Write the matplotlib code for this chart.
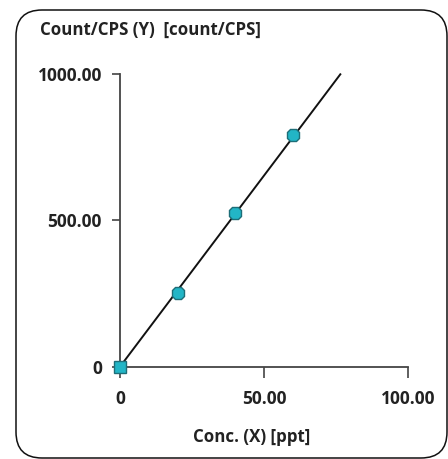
import matplotlib
matplotlib.use("Agg")
import matplotlib.pyplot as plt
from matplotlib.patches import FancyBboxPatch

# data
conc = [0, 20, 40, 60]
counts = [0, 252, 524, 792]
fit_x = [0, 76.5]
fit_y = [0, 1000]
x_ticks = [0, 50, 100]
x_tick_labels = ["0", "50.00", "100.00"]
y_ticks = [0, 500, 1000]
y_tick_labels = ["0", "500.00", "1000.00"]

W, H, DPI = 448, 459, 100
plt.rcParams['font.family'] = ['Open Sans', 'DejaVu Sans']
fig = plt.figure(figsize=(W / DPI, H / DPI), dpi=DPI)

# rounded frame
frame = FancyBboxPatch((16 / DPI, (H - 458) / DPI), (447 - 16) / DPI, (458 - 10) / DPI,
                       boxstyle="round,pad=0,rounding_size=0.26",
                       transform=fig.dpi_scale_trans, fill=False,
                       edgecolor="#111111", linewidth=1.1)
fig.patches.append(frame)

left, right = 120 / W, 408 / W
bottom, top = 1 - 366.7 / H, 1 - 74.3 / H
ax = fig.add_axes([left, bottom, right - left, top - bottom])
ax.set_xlim(0, 100)
ax.set_ylim(0, 1000)
ax.patch.set_visible(False)

for s in ["top", "right"]:
    ax.spines[s].set_visible(False)
for s in ["left", "bottom"]:
    ax.spines[s].set_color("#444444")
    ax.spines[s].set_linewidth(1.3)

ax.plot(fit_x, fit_y, color="#111111", linewidth=1.4, clip_on=False, zorder=2)
ax.plot(conc[1:], counts[1:], linestyle="none", marker="8", markersize=10,
        markerfacecolor="#22b5c6", markeredgecolor="#1d6e78", markeredgewidth=1.0,
        clip_on=False, zorder=3)
ax.plot(conc[:1], counts[:1], linestyle="none", marker="s", markersize=8.5,
        markerfacecolor="#22b5c6", markeredgecolor="#1d6e78", markeredgewidth=1.0,
        clip_on=False, zorder=3)

ax.set_xticks(x_ticks)
ax.set_xticklabels(x_tick_labels)
ax.set_yticks(y_ticks)
ax.set_yticklabels(y_tick_labels)
ax.tick_params(axis="x", length=8, width=1.2, color="#444444", pad=8.5,
               labelsize=12.5, labelcolor="#222222")
ax.tick_params(axis="y", length=6, width=1.2, color="#444444", pad=7,
               labelsize=12.5, labelcolor="#222222")
for lbl in ax.get_xticklabels() + ax.get_yticklabels():
    lbl.set_fontweight("bold")

fig.text(40 / W, 1 - 30 / H, "Count/CPS (Y)  [count/CPS]", ha="left", va="center",
         fontsize=12.2, fontweight="bold", color="#222222")
fig.text(252 / W, 1 - 437 / H, "Conc. (X) [ppt]", ha="center", va="center",
         fontsize=12.2, fontweight="bold", color="#222222")

fig.savefig("out.png", dpi=DPI)
